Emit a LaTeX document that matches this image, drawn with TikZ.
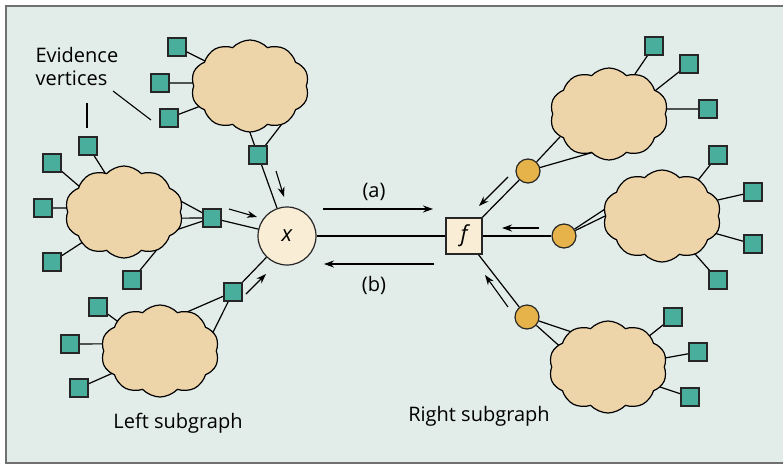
\documentclass[tikz,border=0pt]{standalone}
\usepackage{fontspec}
\setmainfont{Open Sans}
\usetikzlibrary{shapes.symbols,arrows.meta}
\pgfdeclarelayer{bg}
\pgfdeclarelayer{edges}
\pgfsetlayers{bg,edges,main}
\definecolor{panel}{HTML}{E2ECE9}
\definecolor{framegray}{HTML}{707070}
\definecolor{cloudtan}{HTML}{EED5A9}
\definecolor{evteal}{HTML}{4AAE9D}
\definecolor{cream}{HTML}{FAEDD6}
\definecolor{amber}{HTML}{E5B349}
\begin{document}
\begin{tikzpicture}[x=1pt,y=-1pt,
  subnet/.style={cloud, cloud puffs=10, cloud puff arc=95, aspect=1.28,
    minimum width=118pt, minimum height=92pt, inner sep=0pt,
    draw=black, line width=1.2pt, fill=cloudtan},
  evid/.style={rectangle, draw=black!85, line width=1.2pt, fill=evteal,
    minimum size=18pt, inner sep=0pt},
  hub/.style={circle, draw=black!85, line width=1.2pt, fill=amber,
    minimum size=24pt, inner sep=0pt},
  link/.style={line width=1.2pt},
  tie/.style={link, shorten <=-8pt},
  msg/.style={line width=1.1pt, -{Stealth[length=10pt,width=7pt]}},
  lbl/.style={font=\fontsize{20}{23}\selectfont}]

\useasboundingbox (0,0) rectangle (783,464);
\begin{pgfonlayer}{bg}
  \fill[white] (0,0) rectangle (783,464);
  \draw[framegray, line width=2pt, fill=panel] (6,6) rectangle (790,463);
\end{pgfonlayer}

% variable and factor
\node[circle, draw=black!85, line width=1.2pt, fill=cream, minimum size=58pt,
  inner sep=0pt, font=\fontsize{22}{26}\selectfont\itshape] (x) at (287,236) {x};
\node[rectangle, draw=black!85, line width=1.2pt, fill=cream, minimum size=36pt,
  inner sep=0pt, font=\fontsize{22}{26}\selectfont\itshape] (f) at (464,236) {f};

% clouds
\node[subnet] (c1) at (250,86) {};
\node[subnet] (c2) at (124,212) {};
\node[subnet] (c3) at (160,351) {};
\node[subnet] (c4) at (609,114) {};
\node[subnet] (c5) at (662,216) {};
\node[subnet] (c6) at (608,367) {};

% evidence vertices
\node[evid] (e1a) at (177,47) {};
\node[evid] (e1b) at (160,83) {};
\node[evid] (e1c) at (169,118) {};
\node[evid] (k1) at (258,155) {};
\node[evid] (e2a) at (88,146) {};
\node[evid] (e2b) at (52,163) {};
\node[evid] (e2c) at (43,208) {};
\node[evid] (e2d) at (52,262) {};
\node[evid] (e2e) at (132,280) {};
\node[evid] (k2) at (212,218) {};
\node[evid] (e3a) at (98,307) {};
\node[evid] (e3b) at (70,344) {};
\node[evid] (e3c) at (79,388) {};
\node[evid] (k3) at (233,292) {};
\node[evid] (e4a) at (654,46) {};
\node[evid] (e4b) at (689,64) {};
\node[evid] (e4c) at (708,109) {};
\node[evid] (e5a) at (718,155) {};
\node[evid] (e5b) at (753,192) {};
\node[evid] (e5c) at (753,244) {};
\node[evid] (e5d) at (718,280) {};
\node[evid] (e6a) at (673,317) {};
\node[evid] (e6b) at (698,352) {};
\node[evid] (e6c) at (690,397) {};

% variable nodes on the right
\node[hub] (o4) at (528,171) {};
\node[hub] (o5) at (564,236) {};
\node[hub] (o6) at (527,317) {};

\begin{pgfonlayer}{edges}
  \draw[tie] (c1.151) -- (e1a);
  \draw[tie] (c1.177) -- (e1b);
  \draw[tie] (c1.202) -- (e1c);
  \draw[tie] (c1.270) -- (k1);
  \draw[tie] (c1.308) -- (k1);
  \draw[tie] (c2.116) -- (e2a);
  \draw[tie] (c2.150) -- (e2b);
  \draw[tie] (c2.176) -- (e2c);
  \draw[tie] (c2.216) -- (e2d);
  \draw[tie] (c2.309) -- (e2e);
  \draw[tie] (c2.10) -- (k2);
  \draw[tie] (c2.354) -- (k2);
  \draw[tie] (c2.343) -- (k2);
  \draw[tie] (c3.145) -- (e3a);
  \draw[tie] (c3.173) -- (e3b);
  \draw[tie] (c3.205) -- (e3c);
  \draw[tie] (c3.54) -- (k3);
  \draw[tie] (c3.20) -- (k3);
  \draw[tie] (c4.57) -- (e4a);
  \draw[tie] (c4.27) -- (e4b);
  \draw[tie] (c4.5) -- (e4c);
  \draw[tie] (c4.205) -- (o4);
  \draw[tie] (c4.241) -- (o4);
  \draw[tie] (c5.45) -- (e5a);
  \draw[tie] (c5.16) -- (e5b);
  \draw[tie] (c5.342) -- (e5c);
  \draw[tie] (c5.311) -- (e5d);
  \draw[tie] (c5.174) -- (o5);
  \draw[tie] (c5.180) -- (o5);
  \draw[tie] (c6.37) -- (e6a);
  \draw[tie] (c6.9) -- (e6b);
  \draw[tie] (c6.339) -- (e6c);
  \draw[tie] (c6.137) -- (o6);
  \draw[tie] (c6.156) -- (o6);
  \draw[link] (k1) -- (x);
  \draw[link] (k2) -- (x);
  \draw[link] (k3) -- (x);
  \draw[link] (x) -- (f);
  \draw[link] (o4) -- (f);
  \draw[link] (o5) -- (f);
  \draw[link] (o6) -- (f);
\end{pgfonlayer}

% message arrows
\coordinate (m1s) at (276,171); \coordinate (m1e) at (284,197);
\coordinate (m2s) at (229,209); \coordinate (m2e) at (257,217);
\coordinate (m3s) at (246,294); \coordinate (m3e) at (266,274);
\coordinate (mas) at (323,209); \coordinate (mae) at (433,209);
\coordinate (mbs) at (434,264); \coordinate (mbe) at (324,264);
\coordinate (m4s) at (508,177); \coordinate (m4e) at (479,206);
\coordinate (m5s) at (539,228); \coordinate (m5e) at (502,228);
\coordinate (m6s) at (508,307); \coordinate (m6e) at (485,275);
\draw[msg] (m1s) -- (m1e);
\draw[msg] (m2s) -- (m2e);
\draw[msg] (m3s) -- (m3e);
\draw[msg] (mas) -- (mae);
\draw[msg] (mbs) -- (mbe);
\draw[msg] (m4s) -- (m4e);
\draw[msg] (m5s) -- (m5e);
\draw[msg] (m6s) -- (m6e);

% labels
\node[lbl] (la) at (374,192) {(a)};
\node[lbl] (lb) at (374,285) {(b)};
\node[lbl, align=left, anchor=west] (ev) at (32,66) {Evidence\\vertices};
\node[lbl] (ls) at (178,423) {Left subgraph};
\node[lbl] (rs) at (479,416) {Right subgraph};

% pointers from the evidence label
\coordinate (p1s) at (113,91); \coordinate (p1e) at (151,120);
\coordinate (p2s) at (87,103); \coordinate (p2e) at (87,128);
\draw[line width=1.1pt] (p1s) -- (p1e);
\draw[line width=1.1pt] (p2s) -- (p2e);
\end{tikzpicture}
\end{document}
